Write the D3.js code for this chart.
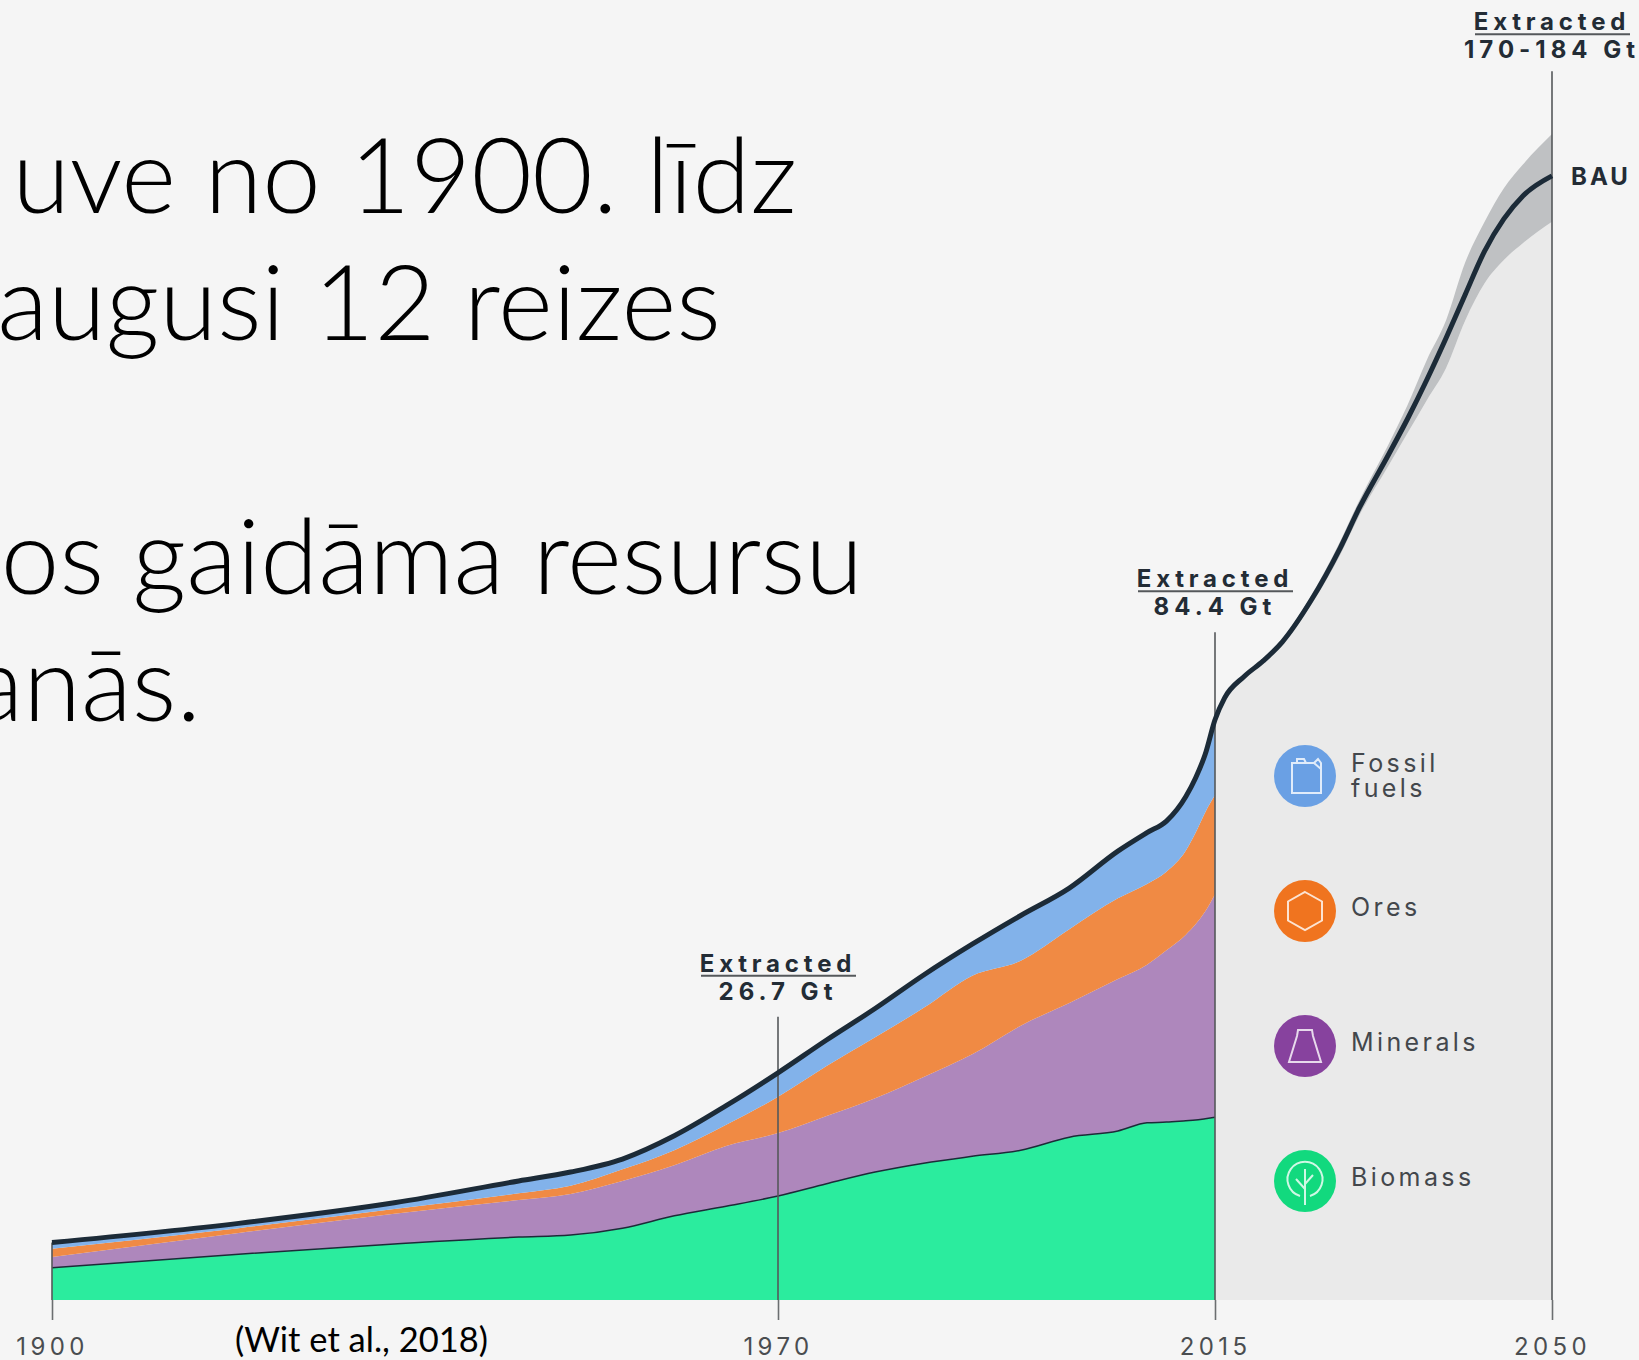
<!DOCTYPE html>
<html>
<head>
<meta charset="utf-8">
<script src="https://cdn.jsdelivr.net/npm/d3@7"></script>
<style>
  html, body { margin: 0; padding: 0; background: #f5f5f5; overflow: hidden; }
  svg { display: block; }
  .axis text { font-family: Inter, sans-serif; font-size: 24px; fill: #4a4d50; letter-spacing: 4.4px; }
  .axis path { display: none; }
  .axis line { stroke: #6b6e70; stroke-width: 1.6; }
</style>
</head>
<body>
<div id="chart"></div>
<script>
// Historic extraction, Gt per year
const years = [1900, 1918, 1933, 1945, 1950, 1955, 1960, 1965, 1970, 1975, 1980, 1985, 1990, 1995, 2000, 2005, 2008, 2010, 2012, 2013, 2014, 2015];
const biomass = [4.7, 6.7, 8.2, 9.2, 9.5, 10.5, 12.3, 13.7, 15.2, 17.0, 18.7, 20.0, 21.0, 21.9, 23.8, 24.7, 25.9, 26.0, 26.2, 26.3, 26.5, 26.7];
const minerals = [1.6, 3.1, 4.4, 5.4, 6.0, 6.9, 7.4, 8.8, 9.2, 9.9, 10.8, 12.6, 14.9, 18.2, 19.6, 22.2, 23.1, 25.1, 27.2, 28.6, 30.3, 32.6];
const ores = [1.2, 0.7, 0.7, 1.0, 1.2, 1.7, 2.2, 3.1, 5.3, 7.3, 8.9, 10.1, 11.5, 9.5, 10.8, 11.8, 11.8, 11.5, 12.3, 13.4, 14.5, 14.5];
const fossil = [0.9, 0.7, 0.9, 1.8, 2.0, 1.5, 2.1, 2.8, 3.5, 3.8, 4.2, 4.8, 4.6, 6.6, 6.0, 6.9, 7.5, 7.4, 7.9, 8.0, 8.5, 11.0];

// Business as usual projection and its uncertainty band
const futureYears = [2015, 2016, 2018, 2020, 2022, 2025, 2028, 2030, 2033, 2035, 2037, 2039, 2041, 2043, 2045, 2047, 2050];
const bau = [84.8, 88.0, 91.1, 93.4, 96.2, 102.3, 109.9, 115.8, 123.5, 128.8, 134.5, 140.6, 147.0, 153.3, 158.0, 161.4, 164.3];
const bauHigh = [84.8, 88.0, 91.2, 93.6, 96.6, 103.0, 110.9, 116.9, 125.0, 130.8, 137.4, 143.2, 151.7, 157.6, 162.5, 166.0, 170.4];
const bauLow = [84.8, 88.0, 91.0, 93.2, 95.8, 101.6, 108.9, 114.7, 121.9, 126.7, 131.5, 136.2, 143.2, 148.6, 152.0, 154.5, 157.6];

const layerKeys = ["biomass", "minerals", "ores", "fossil"];
const layerColors = ["#2bec9e", "#ae87bc", "#f08a44", "#82b2ea"];
const legendLabels = [["Fossil", "fuels"], ["Ores"], ["Minerals"], ["Biomass"]];
const legendKeys = ["fossil", "ores", "minerals", "biomass"];
const legendColors = ["#6aa0e4", "#f0741f", "#87429e", "#12d97e"];

const tickYears = [1900, 1970, 2015, 2050];
const tickPositions = [52, 778, 1215, 1552];
const guideYears = [1970, 2015, 2050];
const guideTops = [41.4, 97.6, 179.6];
const guideLabels = ["26.7 Gt", "84.4 Gt", "170-184 Gt"];

const bodyLines = ["uve no 1900. līdz", "augusi 12 reizes", "os gaidāma resursu", "anās."];

const width = 1639;
const height = 1360;
const baseline = 1300;

const svg = d3.select("#chart")
  .append("svg")
    .attr("width", width)
    .attr("height", height)
    .attr("viewBox", `0 0 ${width} ${height}`);

svg.append("rect")
  .attr("width", width)
  .attr("height", height)
  .attr("fill", "#f5f5f5");

// The time axis of the original is not quite even, so it is piecewise
const xScale = d3.scaleLinear().domain(tickYears).range(tickPositions);
const yScale = d3.scaleLinear().domain([0, 190]).range([baseline, 0]);

/*******************************/
/*    Body text                */
/*******************************/
const bodyEnds = [797, 721, 863, 201];
const bodyBaselines = [213, 340, 594, 721];
svg.selectAll(".body-line")
  .data(bodyLines)
  .join("text")
    .attr("class", "body-line")
    .attr("x", (d, i) => bodyEnds[i])
    .attr("y", (d, i) => bodyBaselines[i])
    .attr("text-anchor", "end")
    .attr("font-family", "Lato, sans-serif")
    .attr("font-weight", 300)
    .attr("font-size", 105)
    .attr("fill", "#000")
    .text(d => d);

svg.append("text")
  .attr("x", 235)
  .attr("y", 1352)
  .attr("font-family", "Lato, sans-serif")
  .attr("font-size", 34.5)
  .attr("fill", "#000")
  .text("(Wit et al., 2018)");

/*******************************/
/*    Projection               */
/*******************************/
const future = futureYears.map((year, i) => ({ year, bau: bau[i], high: bauHigh[i], low: bauLow[i] }));
const curve = d3.curveMonotoneX;

svg.append("path")
  .datum(future)
  .attr("fill", "#eaeaea")
  .attr("d", d3.area().x(d => xScale(d.year)).y0(baseline).y1(d => yScale(d.low)).curve(curve));

svg.append("path")
  .datum(future)
  .attr("fill", "#bfc1c3")
  .attr("d", d3.area().x(d => xScale(d.year)).y0(d => yScale(d.low)).y1(d => yScale(d.high)).curve(curve));

/*******************************/
/*    Stacked layers           */
/*******************************/
const table = years.map((year, i) => ({
  year,
  biomass: biomass[i],
  minerals: minerals[i],
  ores: ores[i],
  fossil: fossil[i]
}));
const stacked = d3.stack().keys(layerKeys)(table);

const layerArea = d3.area()
  .x(d => xScale(d.data.year))
  .y0(d => yScale(d[0]))
  .y1(d => yScale(d[1]))
  .curve(curve);

svg.selectAll(".layer")
  .data(stacked)
  .join("path")
    .attr("class", "layer")
    .attr("fill", (d, i) => layerColors[i])
    .attr("d", layerArea);

// Thin dark edge on top of the biomass
const edgeLine = d3.line()
  .x(d => xScale(d.data.year))
  .y(d => yScale(d[1]))
  .curve(curve);

svg.append("path")
  .datum(stacked[0])
  .attr("fill", "none")
  .attr("stroke", "#1c2b38")
  .attr("stroke-width", 1.5)
  .attr("d", edgeLine);

/*******************************/
/*    Axis and guides          */
/*******************************/
const bottomAxis = d3.axisBottom(xScale)
  .tickValues(tickYears)
  .tickFormat(d3.format("d"))
  .tickSize(20)
  .tickPadding(18);

svg.append("g")
  .attr("class", "axis")
  .attr("transform", `translate(0, ${baseline})`)
  .call(bottomAxis);

svg.selectAll(".guide")
  .data(guideYears)
  .join("line")
    .attr("class", "guide")
    .attr("x1", d => xScale(d))
    .attr("x2", d => xScale(d))
    .attr("y1", (d, i) => yScale(guideTops[i]))
    .attr("y2", baseline)
    .attr("stroke", "#55585b")
    .attr("stroke-width", 1.6);

svg.append("line")
  .attr("x1", xScale(1900))
  .attr("x2", xScale(1900))
  .attr("y1", yScale(d3.sum(layerKeys, (k, i) => stacked[i][0][1] - stacked[i][0][0])))
  .attr("y2", baseline)
  .attr("stroke", "#55585b")
  .attr("stroke-width", 1.6);

// Total line, history then projection
const totalLine = d3.line()
  .x(d => xScale(d[0]))
  .y(d => yScale(d[1]))
  .curve(curve);

const totals = years.map((year, i) => [year, stacked[3][i][1]])
  .concat(future.slice(1).map(d => [d.year, d.bau]));

svg.append("path")
  .datum(totals)
  .attr("fill", "none")
  .attr("stroke", "#1c2b38")
  .attr("stroke-width", 5)
  .attr("stroke-linejoin", "round")
  .attr("d", totalLine);

/*******************************/
/*    Annotations              */
/*******************************/
const notes = svg.selectAll(".note")
  .data(guideYears)
  .join("g")
    .attr("class", "note")
    .attr("transform", (d, i) => `translate(${xScale(d)}, ${yScale(guideTops[i])})`)
    .attr("font-family", "Inter, sans-serif")
    .attr("font-weight", 700)
    .attr("font-size", 24)
    .attr("fill", "#232c35")
    .attr("text-anchor", "middle");

const noteShift = [0, 0, 4];

notes.append("text")
  .attr("y", (d, i) => -45 + noteShift[i])
  .attr("letter-spacing", 4.8)
  .text("Extracted");

notes.append("line")
  .attr("x1", -77)
  .attr("x2", 78)
  .attr("y1", (d, i) => -41 + noteShift[i])
  .attr("y2", (d, i) => -41 + noteShift[i])
  .attr("stroke", "#55585b")
  .attr("stroke-width", 2);

notes.append("text")
  .attr("y", (d, i) => -17 + noteShift[i])
  .attr("letter-spacing", 5)
  .text((d, i) => guideLabels[i]);

svg.append("text")
  .attr("x", 1571)
  .attr("y", 185)
  .attr("font-family", "Inter, sans-serif")
  .attr("font-weight", 700)
  .attr("font-size", 24)
  .attr("letter-spacing", 3)
  .attr("fill", "#232c35")
  .text("BAU");

/*******************************/
/*    Legend                   */
/*******************************/
const iconPaths = {
  fossil: "M-13,-13 L-13,17 L16,17 L16,-7 L9,-13 Z M-8,-13 L-8,-17 L-1,-17 L1,-13 M9,-13 L13,-17 L16,-13 L16,-7",
  ores: "M0,-19 L17,-9.5 L17,9.5 L0,19 L-17,9.5 L-17,-9.5 Z",
  minerals: "M-7,-16 L7,-16 L8,-10 L16,16 L-16,16 L-8,-10 Z",
  biomass: "M0,24 L0,-12 M0,8 L-9,-2 M0,3 L8,-6 M-5,15 A17.5,17.5 0 1 1 5,15"
};

const legend = svg.selectAll(".legend-item")
  .data(legendKeys)
  .join("g")
    .attr("class", "legend-item")
    .attr("transform", (d, i) => `translate(1305, ${776 + i * 135})`);

legend.append("circle")
  .attr("r", 31)
  .attr("fill", (d, i) => legendColors[i]);

legend.append("path")
  .attr("d", d => iconPaths[d])
  .attr("fill", "none")
  .attr("stroke", "#fff")
  .attr("stroke-opacity", 0.8)
  .attr("stroke-width", 2);

legend.each(function (d, i) {
  const lines = legendLabels[i];
  d3.select(this).selectAll("text")
    .data(lines)
    .join("text")
      .attr("x", 46)
      .attr("y", (t, j) => (lines.length > 1 ? -4 + j * 25 : 5))
      .attr("font-family", "Inter, sans-serif")
      .attr("font-size", 25)
      .attr("letter-spacing", 3.4)
      .attr("fill", "#43474c")
      .text(t => t);
});
</script>
</body>
</html>
